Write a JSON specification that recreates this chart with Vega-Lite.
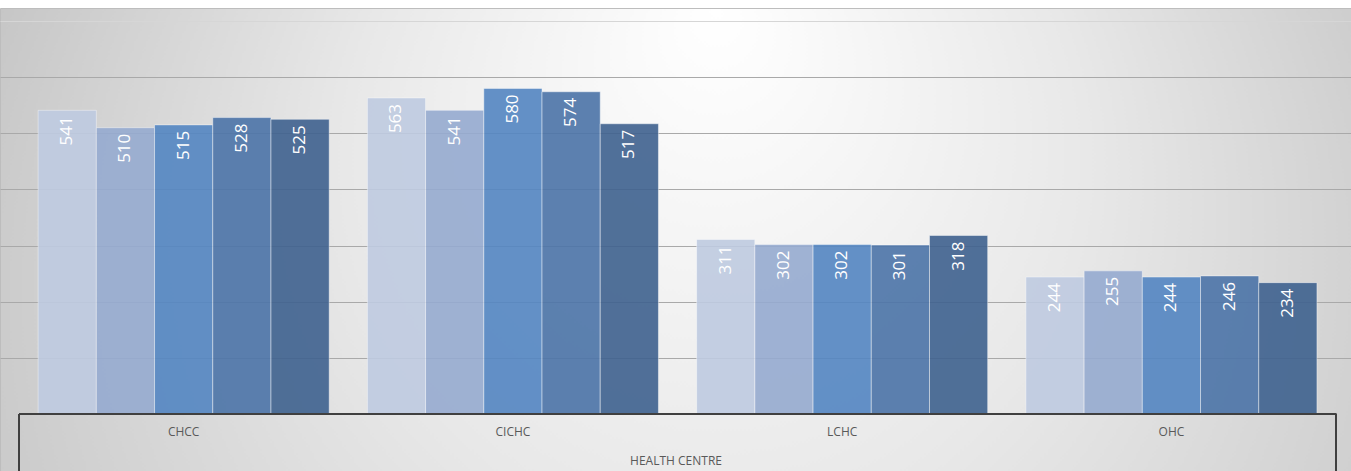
{
  "$schema": "https://vega.github.io/schema/vega-lite/v6.json",
  "width": 1351,
  "height": 463,
  "autosize": {"type": "none"},
  "padding": {"top": 8, "left": 0, "right": 0, "bottom": 0},
  "background": "#ffffff",
  "config": {
    "font": "Open Sans",
    "view": {
      "stroke": "#bdbdbd",
      "strokeWidth": 1,
      "fill": {
        "gradient": "radial",
        "x1": 0.53, "y1": 0.33, "r1": 0,
        "x2": 0.53, "y2": 0.577, "r2": 0.608,
        "stops": [
          {"offset": 0, "color": "#ffffff"},
          {"offset": 0.45, "color": "#e8e8e8"},
          {"offset": 1, "color": "#c3c3c3"}
        ]
      }
    }
  },
  "data": {
    "values": [
      {"centre": "CHCC", "series": "S1", "value": 541},
      {"centre": "CHCC", "series": "S2", "value": 510},
      {"centre": "CHCC", "series": "S3", "value": 515},
      {"centre": "CHCC", "series": "S4", "value": 528},
      {"centre": "CHCC", "series": "S5", "value": 525},
      {"centre": "CICHC", "series": "S1", "value": 563},
      {"centre": "CICHC", "series": "S2", "value": 541},
      {"centre": "CICHC", "series": "S3", "value": 580},
      {"centre": "CICHC", "series": "S4", "value": 574},
      {"centre": "CICHC", "series": "S5", "value": 517},
      {"centre": "LCHC", "series": "S1", "value": 311},
      {"centre": "LCHC", "series": "S2", "value": 302},
      {"centre": "LCHC", "series": "S3", "value": 302},
      {"centre": "LCHC", "series": "S4", "value": 301},
      {"centre": "LCHC", "series": "S5", "value": 318},
      {"centre": "OHC", "series": "S1", "value": 244},
      {"centre": "OHC", "series": "S2", "value": 255},
      {"centre": "OHC", "series": "S3", "value": 244},
      {"centre": "OHC", "series": "S4", "value": 246},
      {"centre": "OHC", "series": "S5", "value": 234}
    ]
  },
  "layer": [
    {
      "mark": {"type": "bar", "opacity": 0.9, "stroke": "#ffffff", "strokeOpacity": 0.45, "strokeWidth": 1},
      "encoding": {
        "x": {
          "field": "centre",
          "type": "nominal",
          "sort": ["CHCC", "CICHC", "LCHC", "OHC"],
          "scale": {"paddingInner": 0, "paddingOuter": 0.0516, "align": 0.56},
          "title": "HEALTH CENTRE",
          "axis": {
            "orient": "bottom",
            "offset": -57,
            "domain": false,
            "ticks": false,
            "labelAngle": 0,
            "labelFontSize": 12,
            "labelColor": "#595959",
            "labelPadding": 12,
            "titleFontSize": 12,
            "titleFontWeight": "normal",
            "titleColor": "#595959",
            "titlePadding": 18
          }
        },
        "xOffset": {
          "field": "series",
          "type": "nominal",
          "scale": {"paddingInner": 0, "paddingOuter": 0.328}
        },
        "y": {
          "field": "value",
          "type": "quantitative",
          "scale": {"domain": [-101.5, 723.2], "nice": false, "zero": false},
          "axis": {
            "values": [100, 200, 300, 400, 500, 600, 700],
            "labels": false,
            "ticks": false,
            "domain": false,
            "title": null,
            "grid": true,
            "gridColor": {"condition": {"test": "datum.value === 700", "value": "#d6d6d6"}, "value": "#a9a9a9"},
            "gridWidth": 1
          }
        },
        "y2": {"datum": 0},
        "color": {
          "field": "series",
          "type": "nominal",
          "scale": {"range": ["#bfcbe1", "#96abd0", "#5486c2", "#4c74a8", "#3f628f"]},
          "legend": null
        }
      }
    },
    {
      "mark": {"type": "text", "angle": 270, "align": "right", "baseline": "middle", "dx": -6, "fontSize": 17, "color": "#ffffff"},
      "encoding": {
        "x": {"field": "centre", "type": "nominal", "sort": ["CHCC", "CICHC", "LCHC", "OHC"]},
        "xOffset": {"field": "series", "type": "nominal"},
        "y": {"field": "value", "type": "quantitative"},
        "text": {"field": "value", "type": "quantitative"}
      }
    },
    {
      "mark": {"type": "rule", "color": "#404040", "strokeWidth": 1.5},
      "encoding": {
        "x": {"datum": "CHCC", "type": "nominal", "bandPosition": 0},
        "x2": {"datum": "OHC", "bandPosition": 1},
        "y": {"datum": 0, "type": "quantitative"}
      }
    },
    {
      "mark": {"type": "rule", "color": "#404040", "strokeWidth": 1.5},
      "encoding": {
        "x": {"datum": "CHCC", "type": "nominal", "bandPosition": 0},
        "y": {"datum": 0, "type": "quantitative"},
        "y2": {"datum": -101.5}
      }
    },
    {
      "mark": {"type": "rule", "color": "#404040", "strokeWidth": 1.5},
      "encoding": {
        "x": {"datum": "OHC", "type": "nominal", "bandPosition": 1},
        "y": {"datum": 0, "type": "quantitative"},
        "y2": {"datum": -101.5}
      }
    }
  ]
}
